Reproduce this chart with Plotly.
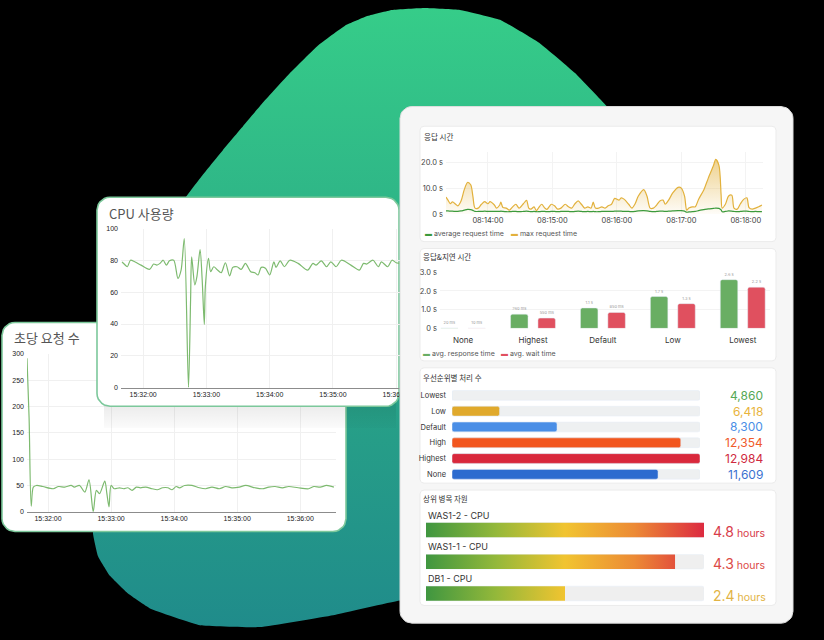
import numpy as np
import plotly.graph_objects as go

W, H = 824, 640
DAY = "2024-01-01 "

# ------------------------------------------------------------------ data
REQ_TIMES = ["15:31:40", "15:31:42", "15:31:44", "15:31:46", "15:31:49", "15:31:55", "15:32:05", "15:32:10",
             "15:32:16", "15:32:22", "15:32:25", "15:32:30", "15:32:35", "15:32:39", "15:32:43", "15:32:46",
             "15:32:49", "15:32:54", "15:32:56", "15:32:58", "15:33:00", "15:33:03", "15:33:08", "15:33:12",
             "15:33:16", "15:33:20", "15:33:24", "15:33:28", "15:33:33", "15:33:39", "15:33:44", "15:33:49",
             "15:33:54", "15:33:58", "15:34:02", "15:34:05", "15:34:10", "15:34:17", "15:34:24", "15:34:30",
             "15:34:36", "15:34:43", "15:34:49", "15:34:55", "15:35:02", "15:35:08", "15:35:17", "15:35:24",
             "15:35:30", "15:35:36", "15:35:43", "15:35:49", "15:35:58", "15:36:08", "15:36:13", "15:36:19",
             "15:36:25", "15:36:32"]
REQ_VALUES = [291.9, 178, 10.6, 46.9, 50, 48, 43.8, 48, 46.9, 50, 46.9, 50, 37.5, 60.6, 0, 40.6, 34.4, 58.1,
              34.4, 9.4, 50, 43.8, 45.6, 43.8, 45.6, 40.6, 46.9, 45.6, 46.9, 43.8, 41.9, 45.6, 45.6, 41.9, 48,
              45.6, 50, 50, 45.6, 43.8, 46.9, 43.8, 48, 45.6, 46.9, 50, 45.6, 43.8, 46.9, 48, 45.6, 48, 45.6,
              43.8, 48, 46.9, 50, 46.9]

CPU_TIMES = ["15:31:40", "15:31:42", "15:31:45", "15:31:48", "15:31:52", "15:31:58", "15:32:06", "15:32:10",
             "15:32:13", "15:32:16", "15:32:19", "15:32:22", "15:32:25", "15:32:29", "15:32:33", "15:32:36",
             "15:32:39", "15:32:43", "15:32:45", "15:32:46", "15:32:49", "15:32:51", "15:32:54", "15:32:56",
             "15:32:58", "15:32:59", "15:33:02", "15:33:04", "15:33:07", "15:33:10", "15:33:14", "15:33:18",
             "15:33:22", "15:33:25", "15:33:29", "15:33:33", "15:33:37", "15:33:42", "15:33:46", "15:33:49",
             "15:33:52", "15:33:56", "15:34:00", "15:34:04", "15:34:06", "15:34:10", "15:34:14", "15:34:19",
             "15:34:27", "15:34:36", "15:34:41", "15:34:44", "15:34:49", "15:34:54", "15:34:58", "15:35:03",
             "15:35:08", "15:35:17", "15:35:25", "15:35:29", "15:35:32", "15:35:38", "15:35:43", "15:35:46",
             "15:35:52", "15:35:56", "15:36:00", "15:36:03", "15:36:10", "15:36:20", "15:36:34"]
CPU_VALUES = [79.2, 77.8, 76.1, 80.2, 79.2, 77.1, 74.4, 77.8, 77.1, 78.2, 80.2, 77.1, 79.8, 80.2, 68.8, 74.0,
              93.8, 0, 55.3, 82.3, 64.7, 69.9, 86.9, 67.8, 39.7, 63.6, 81.3, 73.0, 76.1, 74.4, 72.3, 78.6,
              70.3, 75.7, 76.1, 74.4, 78.2, 73.0, 72.3, 70.9, 75.7, 75.1, 70.9, 79.2, 75.7, 79.8, 76.1, 80.2,
              78.2, 74.0, 78.2, 77.1, 79.8, 76.1, 79.2, 76.1, 80.2, 77.1, 74.0, 78.2, 77.8, 80.2, 76.1, 79.2,
              76.1, 80.2, 78.6, 78.2, 77, 79, 78]

RESP_TIMES = ["08:13:21", "08:13:23", "08:13:25", "08:13:27", "08:13:30", "08:13:32", "08:13:35", "08:13:38",
              "08:13:41", "08:13:44", "08:13:46", "08:13:48", "08:13:51", "08:13:54", "08:13:57", "08:14:00",
              "08:14:02", "08:14:06", "08:14:08", "08:14:11", "08:14:12", "08:14:14", "08:14:17", "08:14:20",
              "08:14:23", "08:14:26", "08:14:29", "08:14:33", "08:14:36", "08:14:38", "08:14:40", "08:14:43",
              "08:14:45", "08:14:47", "08:14:50", "08:14:53", "08:14:55", "08:14:59", "08:15:02", "08:15:05",
              "08:15:08", "08:15:12", "08:15:15", "08:15:18", "08:15:21", "08:15:24", "08:15:27", "08:15:30",
              "08:15:33", "08:15:36", "08:15:38", "08:15:40", "08:15:43", "08:15:46", "08:15:49", "08:15:52",
              "08:15:55", "08:15:58", "08:16:02", "08:16:04", "08:16:07", "08:16:11", "08:16:14", "08:16:17",
              "08:16:20", "08:16:25", "08:16:28", "08:16:31", "08:16:34", "08:16:37", "08:16:40", "08:16:43",
              "08:16:45", "08:16:48", "08:16:52", "08:16:57", "08:17:00", "08:17:03", "08:17:05", "08:17:07",
              "08:17:10", "08:17:13", "08:17:16", "08:17:21", "08:17:25", "08:17:30", "08:17:32", "08:17:35",
              "08:17:37", "08:17:38", "08:17:41", "08:17:44", "08:17:47", "08:17:49", "08:17:52", "08:17:55",
              "08:17:58", "08:18:01", "08:18:03", "08:18:06", "08:18:09", "08:18:12", "08:18:15"]
RESP_MAX = [6.6, 5.3, 4.0, 4.7, 3.8, 3.2, 5.1, 9.5, 12.3, 11.4, 7.0, 2.3, 2.3, 3.8, 4.8, 4.0, 4.8, 3.5, 2.3, 3.5,
            4.6, 2.5, 2.3, 1.5, 2.8, 3.8, 2.3, 4.0, 5.3, 2.3, 1.9, 2.8, 1.3, 2.3, 3.8, 2.3, 1.8, 3.8, 3.2, 1.9,
            2.3, 3.8, 2.8, 2.3, 4.0, 5.1, 3.8, 2.3, 2.8, 2.3, 4.6, 2.3, 2.3, 2.8, 2.3, 3.2, 3.8, 6.1, 5.4, 6.3,
            5.7, 3.8, 2.3, 4.0, 7.0, 9.5, 7.0, 2.3, 2.3, 3.5, 5.1, 5.4, 3.8, 5.3, 8.2, 10.4, 10.1, 7.0, 1.5, 2.3,
            2.8, 2.8, 5.7, 9.5, 13.9, 19.0, 21.3, 19.0, 7.6, 2.3, 3.8, 7.0, 7.3, 2.3, 1.9, 4.0, 5.7, 6.3, 2.5,
            1.9, 2.3, 2.8, 3.5]
RESP_AVG = [1.2, 1.2, 1.1, 1.1, 1.0, 1.0, 1.2, 1.5, 1.8, 1.7,
            1.4, 1.0, 1.0, 1.0, 1.1, 1.0, 1.0, 1.0, 1.0, 1.0,
            1.1, 1.0, 0.9, 0.9, 1.0, 1.0, 0.9, 1.0, 1.1, 1.0,
            0.9, 1.0, 0.9, 0.9, 1.0, 1.0, 0.9, 1.0, 1.0, 0.9,
            1.0, 1.0, 1.0, 0.9, 1.0, 1.1, 1.0, 0.9, 1.0, 0.9,
            1.0, 0.9, 0.9, 1.0, 1.0, 1.0, 1.0, 1.1, 1.1, 1.1,
            1.0, 1.0, 0.9, 1.0, 1.2, 1.3, 1.2, 1.0, 0.9, 1.0,
            1.1, 1.1, 1.0, 1.1, 1.2, 1.3, 1.3, 1.1, 0.7, 0.8,
            0.9, 1.0, 1.3, 1.7, 2.0, 2.2, 2.3, 2.2, 1.6, 0.9,
            1.0, 1.2, 1.1, 1.0, 0.9, 1.0, 1.1, 1.1, 1.0, 0.9,
            1.0, 0.9, 0.9]
RESP_TICKVALS = [0, 10, 20]
RESP_TICKTEXT = ["0 s", "10.0 s", "20.0 s"]

WAIT_CATS = ["None", "Highest", "Default", "Low", "Lowest"]
WAIT_RESP = [0.02, 0.76, 1.09, 1.70, 2.60]
WAIT_WAIT = [0.01, 0.55, 0.85, 1.32, 2.20]
WAIT_TICKVALS = [0, 1, 2, 3]
WAIT_TICKTEXT = ["0 s", "1.0 s", "2.0 s", "3.0 s"]

PRIO_CATS = ["Lowest", "Low", "Default", "High", "Highest", "None"]
PRIO_COUNTS = [4860, 6418, 8300, 12354, 12984, 11609]
PRIO_BAR_COLORS = ["#9aa39a", "#e0a92c", "#4a8ee6", "#f2561e", "#d9283c", "#2c6bcf"]
PRIO_TEXT_COLORS = ["#55a855", "#e8b43c", "#4a8ee6", "#f05a2a", "#cf2a40", "#3a72d0"]

RES_NAMES = ["WAS1-2 - CPU", "WAS1-1 - CPU", "DB1 - CPU"]
RES_HOURS = [4.8, 4.3, 2.4]
RES_TEXT_COLORS = ["#d83c4a", "#dc4a46", "#e2b445"]

# ------------------------------------------------------------------ helpers
CH = "Liberation Sans, Arial, sans-serif"
KR = "Noto Sans CJK KR, sans-serif"
UI = "Inter, Noto Sans, Noto Sans CJK KR, sans-serif"


def fx(x):
    return x / W


def fy(y):
    return 1 - y / H


def rrect(x0, y0, x1, y1, r, n=8):
    pts = []
    for cx, cy, a0, a1 in [(x1 - r, y0 + r, -90, 0), (x1 - r, y1 - r, 0, 90),
                           (x0 + r, y1 - r, 90, 180), (x0 + r, y0 + r, 180, 270)]:
        for a in np.linspace(np.radians(a0), np.radians(a1), n):
            pts.append((cx + r * np.cos(a), cy + r * np.sin(a)))
    pts.append(pts[0])
    return [p[0] for p in pts], [p[1] for p in pts]


traces = []
layout = dict(width=W, height=H, margin=dict(l=0, r=0, t=0, b=0), paper_bgcolor="black",
              plot_bgcolor="rgba(0,0,0,0)", showlegend=False, font=dict(family=CH, color="#333"))
annotations = []


def axname(n, a):
    return a + "axis" + ("" if n == 1 else str(n))


def ref(n, a):
    return a + ("" if n == 1 else str(n))


def canvas(n):
    layout[axname(n, "x")] = dict(domain=[0, 1], range=[0, W], visible=False, anchor=ref(n, "y"), fixedrange=True)
    layout[axname(n, "y")] = dict(domain=[0, 1], range=[H, 0], visible=False, anchor=ref(n, "x"), fixedrange=True)


def shape_trace(n, xs, ys, fill, line="rgba(0,0,0,0)", lw=0, **kw):
    traces.append(go.Scatter(x=xs, y=ys, mode="lines", fill="toself", fillcolor=fill,
                             line=dict(color=line, width=lw), hoverinfo="skip",
                             xaxis=ref(n, "x"), yaxis=ref(n, "y"), **kw))


def note(x, y, text, size, color="#333", family=KR, xanchor="left", **kw):
    annotations.append(dict(x=fx(x), y=fy(y), xref="paper", yref="paper", text=text, showarrow=False,
                            xanchor=xanchor, yanchor="middle", font=dict(size=size, color=color, family=family), **kw))


# ------------------------------------------------------------------ 1: background blob + 초당 card
canvas(1)
BLOB = [(392, 6), (425, 4), (460, 6), (500, 16), (540, 40), (575, 70), (607, 104), (650, 160), (700, 250),
        (720, 400), (700, 560), (600, 595), (500, 598), (400, 605), (333, 620), (260, 632), (200, 630),
        (150, 613), (128, 598), (110, 580), (98, 560), (93, 537), (98, 470), (108, 400), (125, 330),
        (152, 262), (183, 200), (203, 173), (223, 148), (243, 124), (263, 100), (290, 70), (318, 42),
        (345, 22), (368, 12), (392, 6)]
traces.append(go.Scatter(x=[p[0] for p in BLOB], y=[p[1] for p in BLOB], mode="lines",
                         line=dict(shape="spline", smoothing=0.3, width=0, color="rgba(0,0,0,0)"),
                         fill="toself", hoverinfo="skip",
                         fillgradient=dict(type="vertical", start=0, stop=H,
                                           colorscale=[[0, "#36cd89"], [0.5, "#2aa886"], [1, "#1f8a8b"]]),
                         xaxis="x", yaxis="y"))
xs, ys = rrect(2, 323, 346, 535, 13)
shape_trace(1, xs, ys, "white", "#7cc89b", 1.6)

# ------------------------------------------------------------------ 2: 초당 요청 수 chart
TIME_AX = dict(type="date", tickformat="%H:%M:%S", dtick=60000, showgrid=True, gridcolor="#f0f0f0",
               ticks="", tickfont=dict(size=7, color="#222", family=CH), showline=True,
               linecolor="#8c8c8c", linewidth=1, zeroline=False, fixedrange=True)
layout["xaxis2"] = dict(TIME_AX, domain=[fx(27), fx(336)], anchor="y2",
                        range=[DAY + "15:31:40", DAY + "15:36:34"], tick0=DAY + "15:32:00")
layout["yaxis2"] = dict(domain=[fy(515), fy(355)], anchor="x2", range=[0, 300], dtick=50, showgrid=True,
                        gridcolor="#f0f0f0", zeroline=False, tickfont=dict(size=7, color="#222", family=CH),
                        ticklabelstandoff=2, fixedrange=True)
traces.append(go.Scatter(x=[DAY + t for t in REQ_TIMES], y=REQ_VALUES, mode="lines",
                         line=dict(color="#7dba6f", width=1.2, shape="spline", smoothing=0.8),
                         xaxis="x2", yaxis="y2"))
note(12, 338, "초당 요청 수", 13, "#555")

# ------------------------------------------------------------------ 3: CPU card
canvas(3)
traces.append(go.Scatter(x=[104, 396, 396, 104, 104], y=[404, 404, 430, 430, 404], mode="lines",
                         line=dict(width=0, color="rgba(0,0,0,0)"), fill="toself", hoverinfo="skip",
                         fillgradient=dict(type="vertical", start=404, stop=430,
                                           colorscale=[[0, "rgba(0,0,0,0.07)"], [1, "rgba(0,0,0,0)"]]),
                         xaxis="x3", yaxis="y3"))
xs, ys = rrect(97, 196, 399, 408, 13)
shape_trace(3, xs, ys, "white", "#7cc89b", 1.6)

# ------------------------------------------------------------------ 4: CPU 사용량 chart
layout["xaxis4"] = dict(TIME_AX, domain=[fx(121), fx(431)], anchor="y4",
                        range=[DAY + "15:31:39", DAY + "15:36:33"], tick0=DAY + "15:32:00")
layout["yaxis4"] = dict(domain=[fy(389), fy(228)], anchor="x4", range=[0, 100], dtick=20, showgrid=True,
                        gridcolor="#f0f0f0", zeroline=False, tickfont=dict(size=7, color="#222", family=CH),
                        ticklabelstandoff=2, fixedrange=True)
traces.append(go.Scatter(x=[DAY + t for t in CPU_TIMES], y=CPU_VALUES, mode="lines",
                         line=dict(color="#7dba6f", width=1.2, shape="spline", smoothing=0.8),
                         xaxis="x4", yaxis="y4"))
note(107, 212, "CPU 사용량", 13, "#555")

# ------------------------------------------------------------------ 5: big card and panels
canvas(5)
xs, ys = rrect(400, 104, 793, 628, 12)
shape_trace(5, xs, ys, "#f6f6f6", "#dedede", 1)
for (py0, py1) in [(124, 241), (248, 362), (369, 486), (493, 610)]:
    xs, ys = rrect(420, py0, 776, py1, 4)
    shape_trace(5, xs, ys, "white", "#ebebeb", 1)

# ------------------------------------------------------------------ 6: 응답 시간
YELLOW, GREEN = "#e2b13c", "#3c9a3c"
layout["xaxis6"] = dict(type="date", tickformat="%H:%M:%S", dtick=60000, tick0=DAY + "08:14:00",
                        domain=[fx(446), fx(763)], anchor="y6",
                        range=[DAY + "08:13:21", DAY + "08:18:16"], showgrid=True, gridcolor="#f3f3f3",
                        ticks="", showline=False, zeroline=False,
                        tickfont=dict(size=7.5, color="#444", family=UI), fixedrange=True)
layout["yaxis6"] = dict(domain=[fy(213), fy(150.6)], anchor="x6", range=[0, 24], tickvals=RESP_TICKVALS,
                        ticktext=RESP_TICKTEXT, showgrid=True, gridcolor="#f3f3f3", zeroline=False,
                        tickfont=dict(size=7.5, color="#444", family=UI), ticklabelstandoff=2, fixedrange=True)
rt = [DAY + t for t in RESP_TIMES]
traces.append(go.Scatter(x=rt, y=RESP_MAX, mode="lines", fill="tozeroy",
                         fillgradient=dict(type="vertical", start=0, stop=22,
                                           colorscale=[[0, "rgba(226,177,60,0.03)"],
                                                       [1, "rgba(226,177,60,0.6)"]]),
                         line=dict(color=YELLOW, width=1.2, shape="spline", smoothing=0.8),
                         xaxis="x6", yaxis="y6"))
traces.append(go.Scatter(x=rt, y=RESP_AVG, mode="lines",
                         line=dict(color=GREEN, width=1.2, shape="spline", smoothing=0.8),
                         xaxis="x6", yaxis="y6"))
note(422, 134, "응답 시간", 7.5, "#333")
note(423, 233, f"<span style='color:{GREEN}'>▬</span> average request time", 7, "#555", UI)
note(509, 233, f"<span style='color:{YELLOW}'>▬</span> max request time", 7, "#555", UI)

# ------------------------------------------------------------------ 7: 응답&지연 시간
G2, R2 = "#69ae63", "#e0505f"
layout["xaxis7"] = dict(domain=[fx(440), fx(770)], anchor="y7", range=[-0.33, 4.39], type="category",
                        categoryorder="array", categoryarray=WAIT_CATS, showgrid=False, ticks="",
                        showline=False, zeroline=False, tickfont=dict(size=8, color="#333", family=UI),
                        ticklabelstandoff=6, fixedrange=True)
layout["yaxis7"] = dict(domain=[fy(329), fy(329 - 3.05 * 19)], anchor="x7", range=[0, 3.05],
                        tickvals=WAIT_TICKVALS, ticktext=WAIT_TICKTEXT, showgrid=True, gridcolor="#f3f3f3",
                        zeroline=False, tickfont=dict(size=7.5, color="#444", family=UI), ticklabelstandoff=2,
                        fixedrange=True)


def fmt_s(v):
    return f"{v * 1000:.0f} ms" if v < 1 else f"{v:.1f} s"


for vals, col, off in [(WAIT_RESP, G2, -0.321), (WAIT_WAIT, R2, 0.071)]:
    traces.append(go.Bar(x=WAIT_CATS, y=vals, width=0.25, offset=off, marker=dict(color=col, cornerradius=2),
                         text=[fmt_s(v) for v in vals], textposition="outside", cliponaxis=False,
                         textfont=dict(size=4, color="#999", family=UI), xaxis="x7", yaxis="y7"))
note(421, 256, "응답&지연 시간", 7.5, "#333")
note(421, 354, f"<span style='color:{G2}'>▬</span> avg. response time", 7, "#555", UI)
note(499, 354, f"<span style='color:{R2}'>▬</span> avg. wait time", 7, "#555", UI)

# ------------------------------------------------------------------ 8: 우선순위별 처리 수
pmin, pmax = min(PRIO_COUNTS), max(PRIO_COUNTS)
layout["xaxis8"] = dict(domain=[fx(452), fx(700)], anchor="y8", range=[pmin, pmax], visible=False,
                        fixedrange=True)
layout["yaxis8"] = dict(domain=[fy(485), fy(389)], anchor="x8", type="category", categoryorder="array",
                        categoryarray=PRIO_CATS, range=[5.5, -0.5], showgrid=False, ticks="", showline=False,
                        zeroline=False, tickfont=dict(size=7.5, color="#333", family=UI), ticklabelstandoff=5,
                        fixedrange=True)
traces.append(go.Bar(y=PRIO_CATS, x=[pmax - pmin for _ in PRIO_CATS], base=pmin, orientation="h",
                     width=0.62, offset=-0.31, marker=dict(color="#eef0f1", cornerradius=2),
                     xaxis="x8", yaxis="y8"))
traces.append(go.Bar(y=PRIO_CATS, x=[v - pmin for v in PRIO_COUNTS], base=pmin, orientation="h",
                     width=0.62, offset=-0.31, marker=dict(color=PRIO_BAR_COLORS, cornerradius=2),
                     xaxis="x8", yaxis="y8"))
for i, (v, c) in enumerate(zip(PRIO_COUNTS, PRIO_TEXT_COLORS)):
    annotations.append(dict(x=fx(765), xref="paper", y=i, yref="y8", text=f"{v:,}", showarrow=False,
                            xanchor="right", yanchor="middle", font=dict(size=12, color=c, family=UI)))
note(421, 379, "우선순위별 처리 수", 7.5, "#333")

# ------------------------------------------------------------------ 9: 상위 병목 자원
hmax = max(RES_HOURS)
GRAD = [[0, "#3f9640"], [0.25, "#93b83a"], [0.5, "#f1c430"], [0.75, "#ec8a35"], [1, "#dc2a40"]]
layout["xaxis9"] = dict(domain=[fx(426), fx(704)], anchor="y9", range=[0, hmax], visible=False,
                        fixedrange=True)
layout["yaxis9"] = dict(domain=[fy(614), fy(517.4)], anchor="x9", range=[2.5, -0.5], visible=False,
                        fixedrange=True)
traces.append(go.Bar(y=list(range(len(RES_HOURS))), x=[hmax for _ in RES_HOURS], orientation="h",
                     width=0.46, offset=-0.23, marker=dict(color="#efefef", cornerradius=2),
                     xaxis="x9", yaxis="y9"))
hb = 0.23
for i, (name, v, c) in enumerate(zip(RES_NAMES, RES_HOURS, RES_TEXT_COLORS)):
    traces.append(go.Scatter(x=[0, v, v, 0, 0], y=[i - hb, i - hb, i + hb, i + hb, i - hb], mode="lines",
                             fill="toself", line=dict(width=0, color="rgba(0,0,0,0)"), hoverinfo="skip",
                             fillgradient=dict(type="horizontal", start=0, stop=hmax, colorscale=GRAD),
                             xaxis="x9", yaxis="y9"))
    annotations.append(dict(x=0, xref="x9", y=i - hb, yref="y9", text=name, showarrow=False, xanchor="left",
                            yanchor="bottom", yshift=0, font=dict(size=9, color="#333", family=UI)))
    annotations.append(dict(x=fx(768), xref="paper", y=i + 0.05, yref="y9",
                            text=f"<span style='font-size:14px'>{v:.1f}</span> hours", showarrow=False,
                            xanchor="right", yanchor="middle", font=dict(size=10.5, color=c, family=UI)))
note(421, 502, "상위 병목 자원", 7.5, "#333")

layout["annotations"] = annotations
fig = go.Figure(data=traces, layout=layout)
fig.write_html("out.html", config={"displayModeBar": False},
               post_script="document.body.style.margin='0';document.body.style.padding='0';"
                           "document.body.style.background='black';")
